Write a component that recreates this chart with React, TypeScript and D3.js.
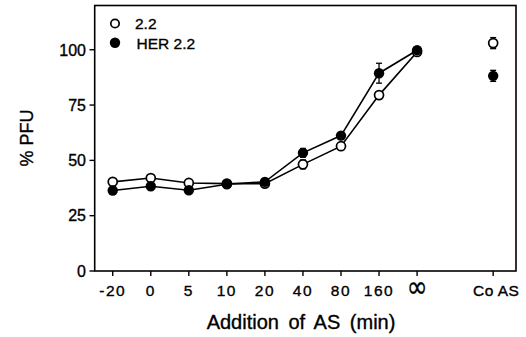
import React from 'react';
import * as d3 from 'd3';

// x categories (index based positions, index 9 left empty as a gap)
const categories = ['-20', '0', '5', '10', '20', '40', '80', '160', '\u221E', '', 'Co AS'];
const lineCount = 9; // points joined by a line (-20 .. infinity)

// % PFU, series "2.2" (open circles)
const openValues = [40.3, 42, 39.8, 39.5, 39.5, 48.2, 56.4, 79.5, 99, null, 103];
const openErrors = [0, 0, 0, 0, 0, 2, 0, 0, 1.5, 0, 2.5];

// % PFU, series "HER 2.2" (filled circles)
const filledValues = [36.4, 38.3, 36.5, 39.2, 40.3, 53.4, 61.2, 89.4, 99.8, null, 88.2];
const filledErrors = [1.5, 0, 1, 0, 1.5, 2, 0, 4.5, 1.5, 0, 2.5];

const yTicks = [0, 25, 50, 75, 100];

const W = 526;
const H = 337;
const font = '"Liberation Sans", Arial, Helvetica, sans-serif';

export default function App() {
  const x = d3.scaleLinear().domain([-0.474, 10.6]).range([94.7, 516]);
  const y = d3.scaleLinear().domain([0, 120]).range([271, 5.5]);

  const line = d3.line<number | null>()
    .defined(d => d !== null)
    .x((_, i) => x(i))
    .y(d => y(d as number));

  const errorBars = (vals: (number | null)[], errs: number[]) =>
    vals.map((v, i) => {
      if (v === null || !errs[i]) return null;
      const cx = x(i);
      const top = y(v + errs[i]);
      const bot = y(v - errs[i]);
      return (
        <g key={i} stroke="#000" strokeWidth={1.3}>
          <line x1={cx} x2={cx} y1={top} y2={bot} />
          <line x1={cx - 3} x2={cx + 3} y1={top} y2={top} />
          <line x1={cx - 3} x2={cx + 3} y1={bot} y2={bot} />
        </g>
      );
    });

  const r = 4.8;
  const inf = x(8);

  return (
    <div style={{ position: 'absolute', left: 0, top: 0 }}>
      <svg width={W} height={H} style={{ display: 'block', background: '#fff' }} fontFamily={font}>
        <g stroke="#000" strokeWidth={0.35}>
          {/* y axis labels */}
          {yTicks.map(t => (
            <text key={t} x={86} y={y(t)} dy="0.36em" textAnchor="end" fontSize={16}>{t}</text>
          ))}
          <text transform={`translate(33,138) rotate(-90)`} textAnchor="middle" fontSize={18}>% PFU</text>

          {/* x axis labels */}
          {categories.map((c, i) => c === '\u221E' ? (
            <text key={i} transform={`translate(${inf},297) scale(0.78,0.95)`} textAnchor="middle" fontSize={32} fontFamily="DejaVu Sans, sans-serif">{c}</text>
          ) : (
            <text key={i} x={x(i) + (c === 'Co AS' ? 3 : 0)} y={296} textAnchor="middle" fontSize={15.5} letterSpacing={c === 'Co AS' ? 0.5 : 1.5}>{c}</text>
          ))}
          <text x={301} y={329} textAnchor="middle" fontSize={20} wordSpacing={4}>Addition of AS (min)</text>

          {/* legend labels */}
          <text x={135} y={29} fontSize={15.5}>2.2</text>
          <text x={136.5} y={48.5} fontSize={15.5}>HER 2.2</text>
        </g>

        {/* frame */}
        <rect x={94.7} y={5.5} width={516 - 94.7} height={271 - 5.5} fill="none" stroke="#000" strokeWidth={1.6} />

        {/* ticks */}
        {yTicks.map(t => (
          <line key={t} x1={89.5} x2={94.7} y1={y(t)} y2={y(t)} stroke="#000" strokeWidth={1.4} />
        ))}
        {categories.map((c, i) => c === '' ? null : (
          <line key={i} x1={x(i)} x2={x(i)} y1={271} y2={276} stroke="#000" strokeWidth={1.4} />
        ))}

        {/* lines */}
        <path d={line(openValues.slice(0, lineCount)) || ''} fill="none" stroke="#000" strokeWidth={1.6} />
        <path d={line(filledValues.slice(0, lineCount)) || ''} fill="none" stroke="#000" strokeWidth={1.6} />

        {/* error bars */}
        {errorBars(openValues, openErrors)}
        {errorBars(filledValues, filledErrors)}

        {/* markers */}
        {openValues.map((v, i) => v === null ? null : (
          <circle key={'o' + i} cx={x(i)} cy={y(v)} r={r - 0.3} fill="#fff" stroke="#000" strokeWidth={1.7} />
        ))}
        {filledValues.map((v, i) => v === null ? null : (
          <circle key={'f' + i} cx={x(i)} cy={y(v)} r={r + 0.4} fill="#000" />
        ))}

        {/* legend markers */}
        <circle cx={115} cy={23.5} r={r - 0.6} fill="#fff" stroke="#000" strokeWidth={1.7} />
        <circle cx={115} cy={42.7} r={r + 0.4} fill="#000" />
      </svg>
    </div>
  );
}
